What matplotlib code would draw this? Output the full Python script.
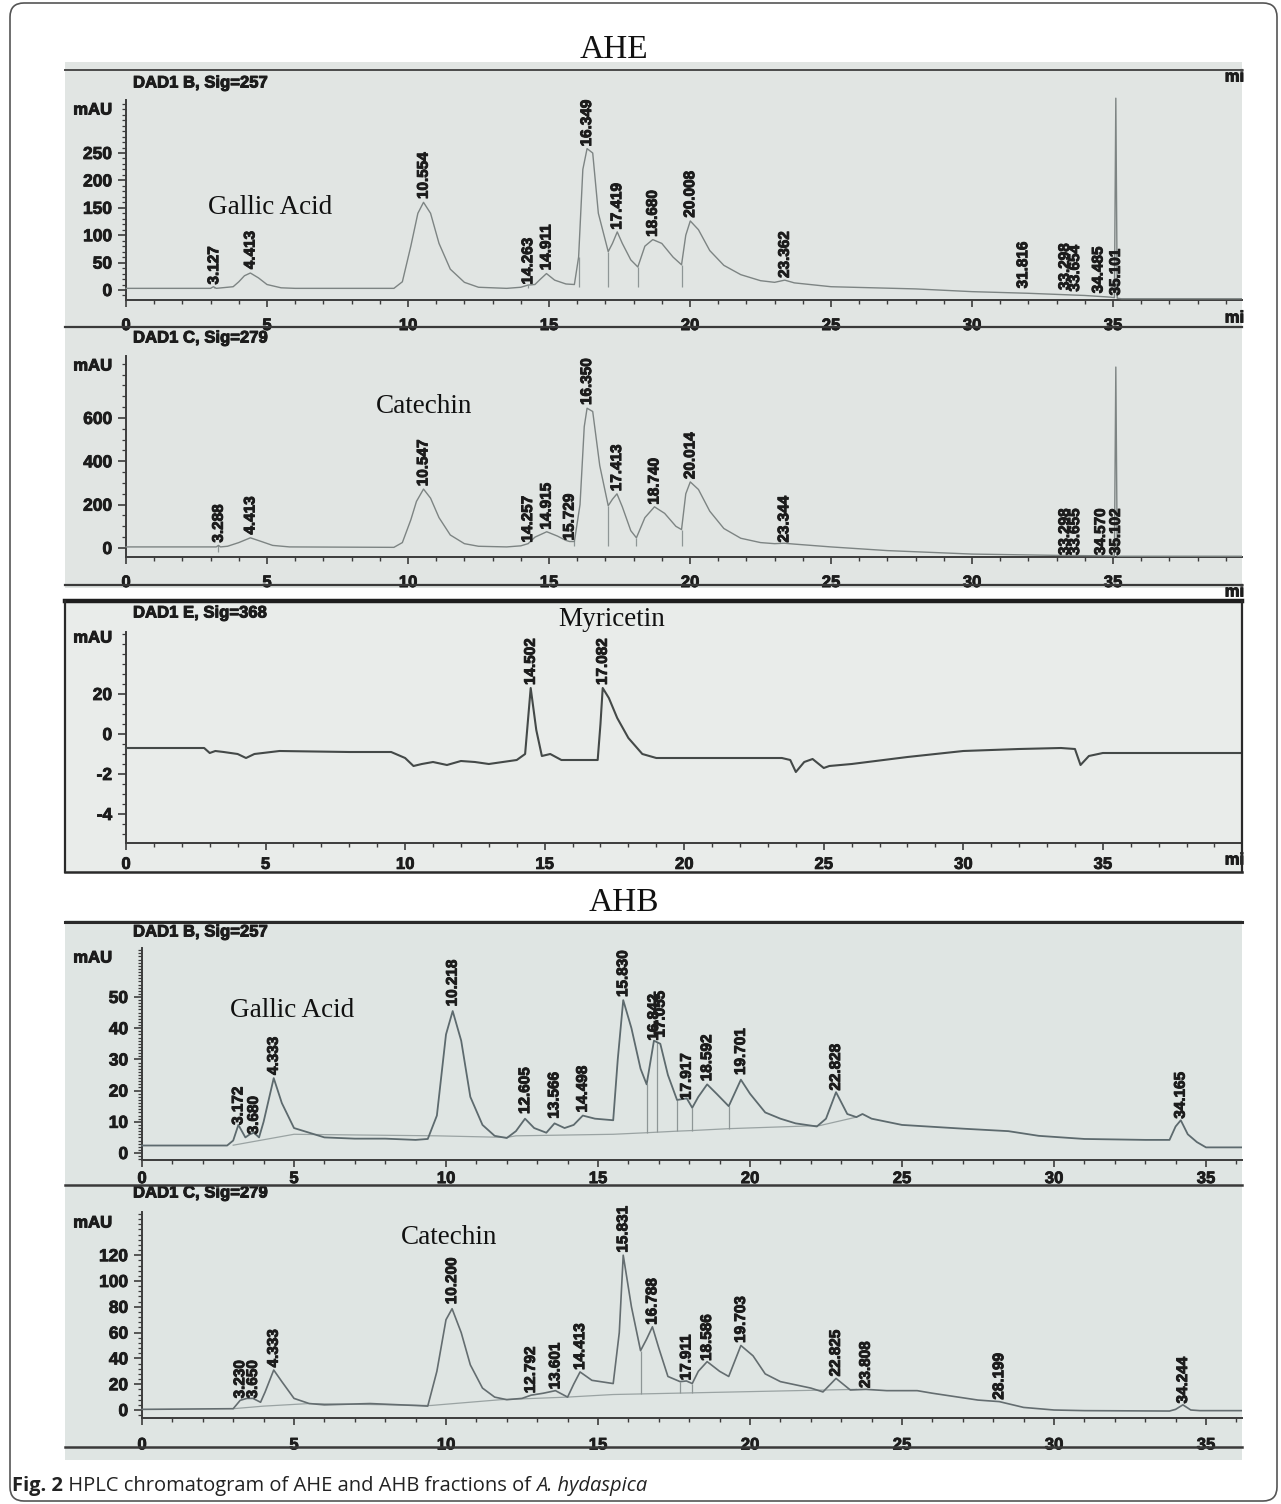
import matplotlib
matplotlib.use("Agg")
import matplotlib.pyplot as plt
import matplotlib.patheffects as pe
from matplotlib.patches import FancyBboxPatch, Rectangle
from matplotlib.lines import Line2D
from matplotlib.ticker import FixedLocator, FixedFormatter
from matplotlib.transforms import IdentityTransform

# ---------------- data ----------------
# AHE, DAD1 B, Sig=257
p1_t = [0, 2.8, 3.0, 3.1, 3.2, 3.4, 3.8, 4.0, 4.2, 4.41, 4.7, 5.0, 5.5, 6, 8, 9.5, 9.8, 10.1, 10.35,
        10.55, 10.8, 11.1, 11.5, 12, 12.5, 13.5, 14.0, 14.26, 14.5, 14.7, 14.91, 15.2, 15.6, 15.9,
        16.05, 16.2, 16.35, 16.55, 16.75, 17.1, 17.25, 17.42, 17.6, 17.9, 18.15, 18.4, 18.68, 19.0,
        19.4, 19.7, 19.85, 20.01, 20.3, 20.7, 21.2, 21.8, 22.5, 23.0, 23.36, 23.7, 25, 28, 30, 32,
        33, 34, 34.9, 35.05, 35.1, 35.15, 35.3, 36, 39.6]
p1_y = [3, 3, 3, 6, 3, 4, 6, 15, 26, 31, 22, 10, 4, 3, 3, 3, 15, 80, 140,
        160, 140, 85, 38, 14, 5, 3, 5, 9, 10, 20, 30, 18, 11, 10,
        60, 220, 258, 250, 140, 70, 85, 106, 85, 55, 42, 80, 92, 85,
        60, 46, 100, 126, 110, 72, 45, 28, 17, 14, 18, 13, 6, 2, -3, -6,
        -8, -10, -13, -14, 350, -15, -16, -16, -16]
p1_drop_t = [3.127, 14.263, 16.05, 17.1, 18.15, 19.7]
p1_drop_top = [6, 9, 60, 70, 42, 46]
p1_drop_bottom = [3, 4, 6, 6, 6, 6]
p1_labels = ["3.127", "4.413", "10.554", "14.263", "14.911", "16.349", "17.419", "18.680",
             "20.008", "23.362", "31.816", "33.298", "33.654", "34.485", "35.101"]
p1_label_base = [10, 38, 166, 10, 36, 262, 110, 97, 132, 22, 3, 0, -3, -6, -10]

# AHE, DAD1 C, Sig=279
p2_t = [0, 2.9, 3.2, 3.28, 3.35, 3.6, 4.0, 4.41, 4.8, 5.2, 5.8, 9.5, 9.8, 10.1, 10.3, 10.55, 10.8,
        11.1, 11.5, 12, 12.5, 13.5, 14.0, 14.26, 14.5, 14.92, 15.3, 15.6, 15.73, 15.9, 16.1, 16.25,
        16.35, 16.55, 16.8, 17.1, 17.25, 17.41, 17.6, 17.9, 18.1, 18.4, 18.74, 19.1, 19.5, 19.7,
        19.85, 20.01, 20.3, 20.7, 21.2, 21.8, 22.5, 23.0, 23.34, 23.7, 25, 27, 30, 33, 34.5,
        35.05, 35.1, 35.15, 35.4, 40.0]
p2_y = [5, 5, 5, 12, 5, 8, 25, 47, 30, 12, 5, 3, 25, 130, 215, 272, 230,
        140, 60, 20, 8, 5, 10, 20, 50, 75, 55, 35, 30, 30, 200, 560,
        645, 630, 380, 195, 225, 250, 190, 80, 47, 140, 190, 160, 100, 85,
        250, 305, 270, 170, 90, 45, 25, 20, 22, 18, 5, -12, -28, -34, -36,
        -37, 835, -38, -38, -38]
p2_drop_t = [3.28, 15.9, 17.1, 18.1, 19.7]
p2_drop_top = [12, 30, 195, 47, 85]
p2_drop_bottom = [-20, 8, 8, 8, 8]
p2_labels = ["3.288", "4.413", "10.547", "14.257", "14.915", "15.729", "16.350", "17.413",
             "18.740", "20.014", "23.344", "33.298", "33.655", "34.570", "35.102"]
p2_label_base = [25, 62, 285, 25, 85, 35, 660, 262, 200, 318, 25, -33, -33, -33, -33]

# AHE, DAD1 E, Sig=368
p3_t = [0, 2.8, 3.0, 3.2, 3.5, 4.0, 4.3, 4.6, 5.5, 8.0, 9.5, 10.0, 10.3, 10.6, 11.0, 11.5, 12.0,
        12.5, 13.0, 14.0, 14.3, 14.5, 14.7, 14.9, 15.2, 15.6, 16.5, 16.9, 17.0, 17.08, 17.3, 17.6,
        18.0, 18.5, 19.0, 21.0, 23.5, 23.8, 24.0, 24.3, 24.6, 25.0, 25.2, 26.0, 28.0, 30.0, 32.0,
        33.5, 34.0, 34.2, 34.5, 35.0, 40.0]
p3_y = [-0.7, -0.7, -0.95, -0.85, -0.9, -1.0, -1.2, -1.0, -0.85, -0.9, -0.9, -1.2, -1.6, -1.5,
        -1.4, -1.55, -1.35, -1.4, -1.5, -1.3, -1.0, 2.3, 0.2, -1.1, -1.0, -1.3, -1.3, -1.3, 0.5,
        2.3, 1.8, 0.8, -0.2, -1.0, -1.2, -1.2, -1.2, -1.3, -1.9, -1.4, -1.25, -1.7, -1.6, -1.5,
        -1.15, -0.85, -0.75, -0.7, -0.75, -1.55, -1.1, -0.95, -0.95]
p3_labels = ["14.502", "17.082"]
p3_label_base = [2.45, 2.45]

# AHB, DAD1 B, Sig=257
p4_t = [0, 2.8, 3.0, 3.17, 3.4, 3.55, 3.68, 3.85, 4.0, 4.333, 4.6, 5.0, 5.5, 6.0, 7.0, 8.0, 9.0,
        9.4, 9.7, 10.0, 10.22, 10.5, 10.8, 11.2, 11.6, 12.0, 12.3, 12.6, 12.9, 13.3, 13.57, 13.9,
        14.2, 14.5, 14.9, 15.5, 15.65, 15.83, 16.1, 16.4, 16.6, 16.84, 17.05, 17.3, 17.6, 17.92,
        18.1, 18.3, 18.59, 18.9, 19.3, 19.7, 20.0, 20.5, 21.0, 21.5, 22.2, 22.5, 22.83, 23.2,
        23.5, 23.7, 24.0, 25.0, 27.0, 28.5, 29.5, 31.0, 33.0, 33.8, 34.0, 34.17, 34.4, 34.7,
        35.0, 36.2]
p4_y = [2.4, 2.4, 4, 9, 5, 6, 6.5, 5, 10, 24, 16, 8, 6.5, 5, 4.6, 4.6, 4.2,
        4.5, 12, 38, 45.5, 36, 18, 9, 5.5, 4.8, 7, 11, 8, 6.5, 9.5, 8,
        9, 12, 11, 10.5, 30, 49, 40, 27, 22, 36, 35, 25, 17, 17.5,
        14.5, 18, 22, 19, 15, 23.5, 19, 13, 11, 9.5, 8.5, 11, 19.5, 12.5,
        11.5, 12.5, 11, 9, 7.8, 7, 5.5, 4.5, 4.2, 4.2, 8.5, 10.5, 6, 3.5,
        1.8, 1.8]
p4_base_t = [3.0, 5.0, 9.7, 12.0, 12.3, 15.5, 16.6, 17.6, 18.1, 19.3, 22.3, 23.5]
p4_base_y = [2.5, 6.0, 5.5, 5.0, 5.5, 6.0, 6.5, 7.0, 7.2, 7.8, 8.8, 11.5]
p4_drop_t = [16.6, 16.95, 17.6, 18.1, 19.3]
p4_drop_top = [22, 35.5, 17, 14.5, 15]
p4_drop_bottom = [6.5, 6.6, 7.0, 7.2, 7.8]
p4_labels = ["3.172", "3.680", "4.333", "10.218", "12.605", "13.566", "14.498", "15.830",
             "16.842", "17.055", "17.917", "18.592", "19.701", "22.828", "34.165"]
p4_label_base = [9, 6, 25, 47, 12.5, 11, 13, 50, 36, 37, 17, 23, 25, 20, 11]

# AHB, DAD1 C, Sig=279
p5_t = [0, 3.0, 3.23, 3.45, 3.65, 3.9, 4.05, 4.333, 4.6, 5.0, 5.5, 6.0, 7.5, 9.0, 9.4, 9.7, 10.0,
        10.2, 10.5, 10.8, 11.2, 11.6, 12.0, 12.5, 12.8, 13.2, 13.6, 14.0, 14.2, 14.41, 14.8, 15.5,
        15.7, 15.83, 16.1, 16.4, 16.6, 16.79, 17.0, 17.3, 17.7, 17.91, 18.1, 18.3, 18.59, 19.0,
        19.3, 19.7, 20.1, 20.5, 21.0, 22.0, 22.4, 22.83, 23.3, 23.81, 24.5, 25.5, 26.0, 27.5,
        28.2, 29.0, 30.0, 31.0, 33.8, 34.0, 34.24, 34.5, 34.8, 36.2]
p5_y = [0.5, 1, 7.5, 9, 9, 6, 14, 31, 22, 9, 5, 4, 5, 3.5, 3, 30, 70,
        78.5, 60, 35, 17, 10, 8, 9, 11.5, 13, 15, 10, 20, 29.5, 23, 20.5,
        60, 120, 80, 46, 55, 64.5, 48, 26, 22, 22.5, 20.5, 30, 37.5, 30,
        26, 50, 42, 28, 22, 17, 14, 24.5, 15.5, 16, 15, 15, 13, 7.7,
        6.5, 2, 0, -0.5, -0.8, 0.5, 4, 0, -0.5, -0.5]
p5_base_t = [3.0, 4.0, 5.5, 9.5, 11.8, 14.0, 15.5, 17.5, 19.5, 21.5, 23.5]
p5_base_y = [1, 3, 5, 3.5, 8, 10, 12, 13, 14, 15, 16]
p5_drop_t = [16.4, 17.7, 18.1]
p5_drop_top = [46, 22, 20.5]
p5_drop_bottom = [12.3, 13, 13.2]
p5_labels = ["3.230", "3.650", "4.333", "10.200", "12.792", "13.601", "14.413", "15.831",
             "16.788", "17.911", "18.586", "19.703", "22.825", "23.808", "28.199", "34.244"]
p5_label_base = [9, 9, 33, 82, 13, 16, 31, 122, 66, 23, 38, 52, 26, 17, 8, 5]

x_ticks = [0, 5, 10, 15, 20, 25, 30, 35]
p1_yticks = [0, 50, 100, 150, 200, 250]
p2_yticks = [0, 200, 400, 600]
p3_yticks = [-4, -2, 0, 2]
p3_yticklabels = ["-4", "-2", "0", "20"]
p4_yticks = [0, 10, 20, 30, 40, 50]
p5_yticks = [0, 20, 40, 60, 80, 100, 120]

# ---------------- figure ----------------
W, H = 1281, 1504
fig = plt.figure(figsize=(W / 100, H / 100), dpi=100)
fig.patch.set_facecolor("white")

SANS = ["Liberation Sans", "DejaVu Sans"]
SERIF = ["Liberation Serif", "DejaVu Serif"]
DARK = "#1c1c1c"
BOLDER = [pe.withStroke(linewidth=0.7, foreground=DARK)]


def fx(x):
    return x / W


def fy(y):
    return 1 - y / H


def hline(y, x0=65, x1=1242, lw=1.6, color="#3a3a3a"):
    fig.add_artist(Line2D([fx(x0), fx(x1)], [fy(y), fy(y)], transform=fig.transFigure,
                          color=color, lw=lw, zorder=5))


def vline(x, y0, y1, lw=1.6, color="#2a2a2a"):
    fig.add_artist(Line2D([fx(x), fx(x)], [fy(y0), fy(y1)], transform=fig.transFigure,
                          color=color, lw=lw, zorder=5))


def steps(lo, hi, step):
    out, k = [], 0
    while True:
        v = round(lo + k * step, 6)
        if v > hi + 1e-9:
            break
        out.append(v)
        k += 1
    return out


# gray scan backgrounds
for (x0, y0, x1, y1, c) in [(65, 62, 1242, 588, "#e1e5e3"), (65, 600, 1242, 872, "#e9ecea"),
                            (65, 920, 1242, 1460, "#dfe5e3")]:
    fig.add_artist(Rectangle((fx(x0), fy(y1)), fx(x1) - fx(x0), fy(y0) - fy(y1),
                             transform=fig.transFigure, facecolor=c, edgecolor="none", zorder=0))

panels = [
    dict(t=p1_t, y=p1_y, labels=p1_labels, base=p1_label_base, box=(65, 70, 1242, 327),
         drops=(p1_drop_t, p1_drop_top, p1_drop_bottom),
         x0=126, pxmin=28.2, y0=290, pxu=0.548, spine=300, ytop=100, yticks=p1_yticks,
         yminor=10, header="DAD1 B, Sig=257", hy=83, mau=110, pad=8, color="#7d8483", lw=1.0,
         note=("Gallic Acid", 5.1, 151)),
    dict(t=p2_t, y=p2_y, labels=p2_labels, base=p2_label_base, box=(65, 327, 1242, 585),
         drops=(p2_drop_t, p2_drop_top, p2_drop_bottom),
         x0=126, pxmin=28.2, y0=548, pxu=0.2167, spine=557, ytop=356, yticks=p2_yticks,
         yminor=50, header="DAD1 C, Sig=279", hy=338, mau=366, pad=8, color="#7d8483", lw=1.0,
         note=("Catechin", 10.57, 651)),
    dict(t=p3_t, y=p3_y, labels=p3_labels, base=p3_label_base, box=(65, 602, 1242, 872),
         x0=126, pxmin=27.91, y0=734, pxu=20.0, spine=843, ytop=632, yticks=p3_yticks,
         ylabels=p3_yticklabels, yminor=0.5, header="DAD1 E, Sig=368", hy=613, mau=638, pad=5,
         color="#444948", lw=1.5, note=("Myricetin", 17.41, 5.7)),
    dict(t=p4_t, y=p4_y, labels=p4_labels, base=p4_label_base, box=(65, 922, 1242, 1185),
         drops=(p4_drop_t, p4_drop_top, p4_drop_bottom),
         x0=142, pxmin=30.4, y0=1153, pxu=3.12, spine=1160, ytop=948, yticks=p4_yticks,
         yminor=1, header="DAD1 B, Sig=257", hy=932, mau=958, pad=3, color="#5d6a6e", lw=1.3,
         bt=p4_base_t, by=p4_base_y, note=("Gallic Acid", 4.93, 45.8)),
    dict(t=p5_t, y=p5_y, labels=p5_labels, base=p5_label_base, box=(65, 1185, 1242, 1447),
         drops=(p5_drop_t, p5_drop_top, p5_drop_bottom),
         x0=142, pxmin=30.4, y0=1410, pxu=1.29, spine=1418, ytop=1212, yticks=p5_yticks,
         yminor=4, header="DAD1 C, Sig=279", hy=1193, mau=1223, pad=9, color="#646d70", lw=1.2,
         bt=p5_base_t, by=p5_base_y, note=("Catechin", 10.1, 134)),
]

for p in panels:
    x0p, y0p, x1p, y1p = p["box"]
    ax = fig.add_axes([fx(x0p), fy(y1p), fx(x1p) - fx(x0p), fy(y0p) - fy(y1p)])
    ax.set_facecolor("none")
    ax.set_xlim((x0p - p["x0"]) / p["pxmin"], (x1p - p["x0"]) / p["pxmin"])
    ax.set_ylim((p["y0"] - y1p) / p["pxu"], (p["y0"] - y0p) / p["pxu"])
    ys = (p["y0"] - p["spine"]) / p["pxu"]
    ytop = (p["y0"] - p["ytop"]) / p["pxu"]
    xmax = (x1p - p["x0"]) / p["pxmin"]

    if "bt" in p:
        ax.plot(p["bt"], p["by"], color="#9aa3a3", lw=0.9, zorder=2)
    if "drops" in p:
        dt, dtop, dbot = p["drops"]
        ax.vlines(dt, dbot, dtop, color="#8e9696", lw=0.9, zorder=2)
    ax.plot(p["t"], p["y"], color=p["color"], lw=p["lw"], zorder=3, clip_on=True)

    for lab, b in zip(p["labels"], p["base"]):
        ax.text(float(lab), b, lab, rotation=90, ha="center", va="bottom", fontsize=11,
                fontweight="bold", family=SANS, color=DARK, zorder=4, path_effects=BOLDER)

    name, nx, ny = p["note"]
    ax.text(nx, ny, name, ha="center", va="center", fontsize=19.5, family=SERIF, color="#111111")

    for s in ("top", "right"):
        ax.spines[s].set_visible(False)
    ax.spines["left"].set_position(("data", 0))
    ax.spines["bottom"].set_position(("data", ys))
    ax.spines["left"].set_bounds(ys, ytop)
    ax.spines["bottom"].set_bounds(0, xmax)
    for s in ("left", "bottom"):
        ax.spines[s].set_color("#3c3c3c")
        ax.spines[s].set_linewidth(1.4)

    ax.xaxis.set_major_locator(FixedLocator(x_ticks))
    ax.xaxis.set_minor_locator(FixedLocator(steps(0, xmax, 1)))
    ax.yaxis.set_major_locator(FixedLocator(p["yticks"]))
    if "ylabels" in p:
        ax.yaxis.set_major_formatter(FixedFormatter(p["ylabels"]))
    ymin_start = p["yminor"] * int(ys / p["yminor"])
    ax.yaxis.set_minor_locator(FixedLocator([v for v in steps(ymin_start, ytop, p["yminor"])
                                             if v >= ys]))
    ax.tick_params(axis="x", which="major", length=5, width=1.2, pad=p["pad"], labelsize=12,
                   colors="#3c3c3c", labelcolor=DARK)
    ax.tick_params(axis="x", which="minor", length=3, width=1.0, colors="#3c3c3c")
    ax.tick_params(axis="y", which="major", length=6, width=1.2, pad=4, labelsize=12.5,
                   colors="#3c3c3c", labelcolor=DARK)
    ax.tick_params(axis="y", which="minor", length=3, width=0.9, colors="#3c3c3c")
    for lb in ax.get_xticklabels() + ax.get_yticklabels():
        lb.set_fontweight("bold")
        lb.set_family(SANS)
        lb.set_path_effects([pe.withStroke(linewidth=0.6, foreground=DARK)])

    fig.text(fx(133), fy(p["hy"]), p["header"], ha="left", va="center", fontsize=12,
             fontweight="bold", family=SANS, color=DARK, path_effects=BOLDER)
    fig.text(fx(112), fy(p["mau"]), "mAU", ha="right", va="center", fontsize=12,
             fontweight="bold", family=SANS, color=DARK, path_effects=BOLDER)

# separator lines
hline(70, lw=1.4, color="#4a4a4a")
hline(327)
hline(585)
hline(601, lw=3.2, color="#1e1e1e")
hline(872, lw=1.8, color="#2a2a2a")
hline(922, lw=2.2, color="#2a2a2a")
hline(1185, lw=1.8)
hline(1447, lw=1.8)
vline(65, 601, 872)
vline(1242, 601, 872)

# cut-off "min" labels at the right edge
for yy in (77, 318, 592, 860):
    fig.text(fx(1244), fy(yy), "mi", ha="right", va="center", fontsize=12, fontweight="bold",
             family=SANS, color=DARK, path_effects=BOLDER)

# section titles
fig.text(fx(614), fy(50), "AHE", ha="center", va="center", fontsize=24, family=SERIF, color="#111111")
fig.text(fx(624), fy(903), "AHB", ha="center", va="center", fontsize=24, family=SERIF, color="#111111")

# caption
CAP = ["Open Sans", "DejaVu Sans"]
renderer = fig.canvas.get_renderer()
xcur = fx(12)
for txt, wt, st in [("Fig. 2", "bold", "normal"),
                    (" HPLC chromatogram of AHE and AHB fractions of ", "normal", "normal"),
                    ("A. hydaspica", "normal", "italic")]:
    t = fig.text(xcur, fy(1486), txt, ha="left", va="center", fontsize=14.5, fontweight=wt,
                 fontstyle=st, family=CAP, color="#222222")
    bb = t.get_window_extent(renderer=renderer)
    xcur += bb.width / W

# rounded outer border
fig.add_artist(FancyBboxPatch((10, 3), 1267, 1498, boxstyle="round,pad=0,rounding_size=14",
                              transform=IdentityTransform(), fill=False, edgecolor="#555555",
                              lw=1.2, zorder=10))

fig.savefig("out.png", dpi=100)
